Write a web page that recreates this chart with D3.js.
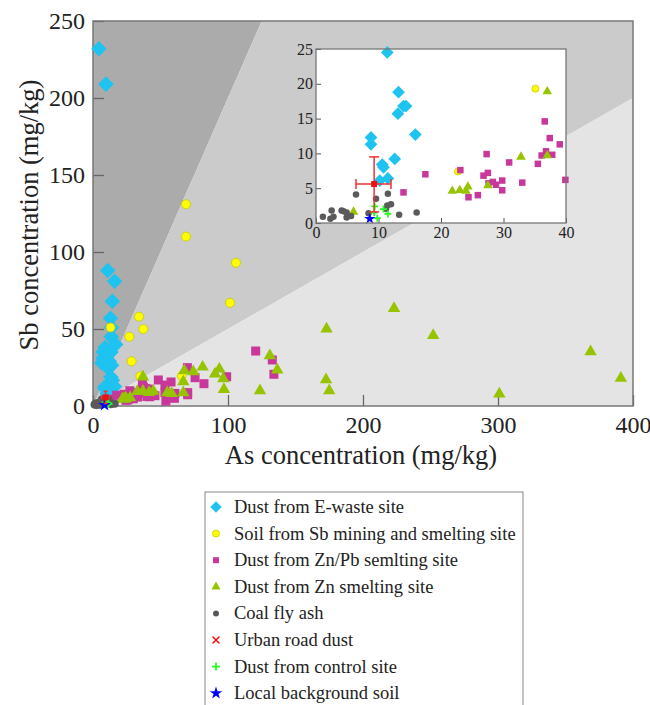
<!DOCTYPE html>
<html>
<head>
<meta charset="utf-8">
<script src="https://cdn.jsdelivr.net/npm/d3@7"></script>
<style>
body { margin: 0; background: #fff; }
svg text { font-family: "Liberation Serif", "Times New Roman", serif; }
</style>
</head>
<body>
<div id="chart"></div>
<script>
// series: [As, Sb] in mg/kg
var eWaste = [[4.4,232],[9.6,209],[10.9,88],[16,81],[14.3,68],[13,57],[13.8,51],[13.5,45],[16.8,40],[9,38],
  [7.4,35],[13.4,35],[7.4,31],[6.5,28],[12,29],[13.8,26.5],
  [11.4,24.5],[13.2,18.8],[13.1,15.7],[14,16.8],[14.4,16.8],[15.9,12.7],[8.8,12.3],[8.8,11.3],
  [10.6,8.4],[10.8,8],[12.6,9.2],[10.2,6.1],[11.5,6.4]];
var sbMining = [[68.9,131],[68.9,110],[105.9,93],[101.5,67],[34.1,58],[37.3,50],[13,51],[26.9,45],
  [28.6,29],[65.7,19.5],[35.1,19.3],[22.7,7.4]];
var znPbSmelting = [[120.5,35.7],[132.8,29.9],[134,20.6],[69.9,24.9],[99,19],[75.6,18.4],[82.2,14.5],
  [70.1,8.7],[70.1,7.3],[57.8,15.6],[53.3,13.6],[48.4,16.9],[41,11],[53.3,8.7],[60.7,8.2],[60.3,5],
  [54,3.2],[45.9,6.7],[42,6],
  [17.5,7],[14,4.4],[23.1,7.6],[27.3,9.9],[27.5,7.2],[26.8,6.8],[27.6,5.7],[28.3,5.9],[28.8,5.5],
  [29.8,6.1],[29.8,4.7],[25.9,4],[24.4,3.7],[30.9,8.7],[33,5.8],[36.6,14.6],[37.4,12.2],[36.8,10.3],
  [36.1,9.7],[37.8,9.8],[35.5,8.5],[39,11.3],[39.9,6.2]];
var znSmelting = [[223,63.4],[252,45.9],[368.6,35.3],[391,18],[301,7.8],[173,50],[172.6,17.1],[175,9.9],
  [131,32.7],[136.5,23.4],[123.7,9.9],[81.2,25.3],[93.6,24],[90.4,20.8],[96.5,17.7],[97,10.8],
  [67.6,22.9],[74.3,22.3],[66.9,15.8],[66.9,8.7],[58.3,8.2],[55,8.7],[44.7,9.7],[41.5,8.8],
  [6,1.6],[21.8,4.6],[23,4.7],[24,4.6],[24.3,5.2],[27.5,5.4],[32.8,9.5],[37,9.7],[37,18.9]];
var coalFlyAsh = [[1.1,0.9],[2.3,0.6],[2.8,0.9],[2.5,1.8],[4.1,1.8],[4.4,1.7],[4.9,1.5],[4.9,0.8],
  [5.6,1],[6.4,4.1],[8.4,1.4],[9.6,3.5],[11.5,4.2],[11.4,2.5],[11.2,2],[12,2.7],[13.3,1.2],[16.1,1.5]];
var urbanRoadDust = [[9.3,5.6]];
var urbanRoadErrX = [[6.4,12.0]];
var urbanRoadErrY = [[1.6,9.5]];
var controlSite = [[9.4,2.4],[9.3,1.5],[9.8,0.7],[10.8,2],[11.5,1.3]];
var backgroundSoil = [[8.6,0.6]];

var legendLabels = ["Dust from E-waste site","Soil from Sb mining and smelting site",
  "Dust from Zn/Pb semlting site","Dust from Zn smelting site","Coal fly ash",
  "Urban road dust","Dust from control site","Local background soil"];
var mainXTicks = [0,100,200,300,400];
var mainYTicks = [0,50,100,150,200,250];
var insetXTicks = [0,10,20,30,40];
var insetYTicks = [0,5,10,15,20,25];

var width = 650, height = 705;
var svg = d3.select("#chart").append("svg")
  .attr("width", width).attr("height", height);

var x = d3.scaleLinear().domain([0,400]).range([93,633]);
var y = d3.scaleLinear().domain([0,250]).range([406,21]);

// shaded ratio zones
var zones = [
  {fill:"#ababab", pts:[[0,0],[0,250],[125,250]]},
  {fill:"#cbcbcb", pts:[[0,0],[125,250],[400,250],[400,200]]},
  {fill:"#e4e4e4", pts:[[0,0],[400,200],[400,0]]}
];
svg.selectAll(".zone").data(zones).enter().append("polygon")
  .attr("class","zone")
  .attr("fill", function(d){ return d.fill })
  .attr("points", function(d){ return d.pts.map(function(p){ return x(p[0])+","+y(p[1]) }).join(" ") });

// axes
var gx = svg.append("g").attr("transform","translate(0,406)")
  .call(d3.axisBottom(x).tickValues(mainXTicks).tickSize(-11).tickPadding(10));
var gy = svg.append("g").attr("transform","translate(93,0)")
  .call(d3.axisLeft(y).tickValues(mainYTicks).tickSize(-11).tickPadding(8));
[gx,gy].forEach(function(g){
  g.select(".domain").remove();
  g.selectAll("line").attr("stroke","#666").attr("stroke-width",1.3);
  g.selectAll("text").attr("font-size",24).attr("fill","#222")
    .style("font-family","'Liberation Serif', serif");
});

svg.append("rect").attr("x",93).attr("y",21).attr("width",540).attr("height",385)
  .attr("fill","none").attr("stroke","#777").attr("stroke-width",1.5);

svg.append("text").attr("x",361).attr("y",464).attr("text-anchor","middle")
  .attr("font-size",26.5).attr("fill","#222").text("As concentration (mg/kg)");
svg.append("text").attr("transform","translate(38,215) rotate(-90)").attr("text-anchor","middle")
  .attr("font-size",26.5).attr("fill","#222").text("Sb concentration (mg/kg)");

// marker helpers
function marker(g, kind, size){
  var s = size;
  if (kind === "diamond") {
    g.append("path").attr("d", d3.symbol(d3.symbolSquare, s*s)()).attr("transform","rotate(45)")
      .attr("fill","#1ec3f0");
  } else if (kind === "yellow") {
    g.append("circle").attr("r", s/2).attr("fill","#ffff00").attr("stroke","#c8c800").attr("stroke-width",0.8);
  } else if (kind === "square") {
    g.append("rect").attr("x",-s/2).attr("y",-s/2).attr("width",s).attr("height",s).attr("fill","#c8379a");
  } else if (kind === "triangle") {
    g.append("path").attr("d", d3.symbol(d3.symbolTriangle, s*s*0.55)()).attr("fill","#97c400");
  } else if (kind === "gray") {
    g.append("circle").attr("r", s/2).attr("fill","#5a5a5a");
  } else if (kind === "x") {
    var h = s/2;
    g.append("path").attr("d","M"+(-h)+","+(-h)+"L"+h+","+h+"M"+(-h)+","+h+"L"+h+","+(-h))
      .attr("stroke","#ff1010").attr("stroke-width",1.5);
  } else if (kind === "plus") {
    var h2 = s/2;
    g.append("path").attr("d","M"+(-h2)+",0L"+h2+",0M0,"+(-h2)+"L0,"+h2)
      .attr("stroke","#22ff22").attr("stroke-width",1.8);
  } else if (kind === "star") {
    g.append("path").attr("d", d3.symbol(d3.symbolStar, s*s*0.5)()).attr("fill","#0000ff");
  }
}

var series = [
  {data:eWaste, kind:"diamond", main:11, inset:9},
  {data:sbMining, kind:"yellow", main:9, inset:7},
  {data:znPbSmelting, kind:"square", main:9, inset:6.5},
  {data:znSmelting, kind:"triangle", main:11, inset:8.5},
  {data:coalFlyAsh, kind:"gray", main:8, inset:6.5},
  {data:controlSite, kind:"plus", main:8, inset:7},
  {data:backgroundSoil, kind:"star", main:10, inset:9}
];

function drawErr(g, sx, sy, capW){
  urbanRoadDust.forEach(function(p,i){
    var ex = urbanRoadErrX[i], ey = urbanRoadErrY[i];
    var e = g.append("g").attr("stroke","#ee3333").attr("stroke-width",1.5);
    e.append("line").attr("x1",sx(ex[0])).attr("x2",sx(ex[1])).attr("y1",sy(p[1])).attr("y2",sy(p[1]));
    e.append("line").attr("x1",sx(p[0])).attr("x2",sx(p[0])).attr("y1",sy(ey[0])).attr("y2",sy(ey[1]));
    [ex[0],ex[1]].forEach(function(v){
      e.append("line").attr("x1",sx(v)).attr("x2",sx(v)).attr("y1",sy(p[1])-capW).attr("y2",sy(p[1])+capW);
    });
    [ey[0],ey[1]].forEach(function(v){
      e.append("line").attr("x1",sx(p[0])-capW).attr("x2",sx(p[0])+capW).attr("y1",sy(v)).attr("y2",sy(v));
    });
    g.append("rect").attr("x",sx(p[0])-3).attr("y",sy(p[1])-3).attr("width",6).attr("height",6).attr("fill","#ee1111");
  });
}

var mainPts = svg.append("g");
series.forEach(function(s){
  s.data.forEach(function(p){
    var g = mainPts.append("g").attr("transform","translate("+x(p[0])+","+y(p[1])+")");
    marker(g, s.kind, s.main);
  });
});
drawErr(mainPts, x, y, 2);

// inset
var ix = d3.scaleLinear().domain([0,40]).range([316,566]);
var iy = d3.scaleLinear().domain([0,25]).range([223,49]);
svg.append("rect").attr("x",316).attr("y",49).attr("width",250).attr("height",174).attr("fill","#fff");
var gix = svg.append("g").attr("transform","translate(0,223)")
  .call(d3.axisBottom(ix).tickValues(insetXTicks).tickSize(-5).tickPadding(4));
var giy = svg.append("g").attr("transform","translate(316,0)")
  .call(d3.axisLeft(iy).tickValues(insetYTicks).tickSize(-5).tickPadding(3));
[gix,giy].forEach(function(g){
  g.select(".domain").remove();
  g.selectAll("line").attr("stroke","#555");
  g.selectAll("text").attr("font-size",16).attr("fill","#222")
    .style("font-family","'Liberation Serif', serif");
});
svg.append("defs").append("clipPath").attr("id","insetClip").append("rect")
  .attr("x",312).attr("y",45).attr("width",258).attr("height",182);
var insetPts = svg.append("g").attr("clip-path","url(#insetClip)");
series.forEach(function(s){
  s.data.filter(function(p){ return p[0] <= 40.5 && p[1] <= 25.5 }).forEach(function(p){
    var g = insetPts.append("g").attr("transform","translate("+ix(p[0])+","+iy(p[1])+")");
    marker(g, s.kind, s.inset);
  });
});
drawErr(insetPts, ix, iy, 5);
svg.append("rect").attr("x",316).attr("y",49).attr("width",250).attr("height",174)
  .attr("fill","none").attr("stroke","#777").attr("stroke-width",1.3);

// legend
svg.append("rect").attr("x",205).attr("y",492).attr("width",318).attr("height",240)
  .attr("fill","#fff").attr("stroke","#888").attr("stroke-width",1);
var legendKinds = ["diamond","yellow","square","triangle","gray","x","plus","star"];
var legendSizes = [8,7,6,8,6,7,8,10];
legendLabels.forEach(function(lab,i){
  var yy = 507 + i*26.6;
  var g = svg.append("g").attr("transform","translate(216,"+yy+")");
  marker(g, legendKinds[i], legendSizes[i]);
  svg.append("text").attr("x",234).attr("y",yy+6).attr("font-size",18.5).attr("fill","#222").text(lab);
});
</script>
</body>
</html>
